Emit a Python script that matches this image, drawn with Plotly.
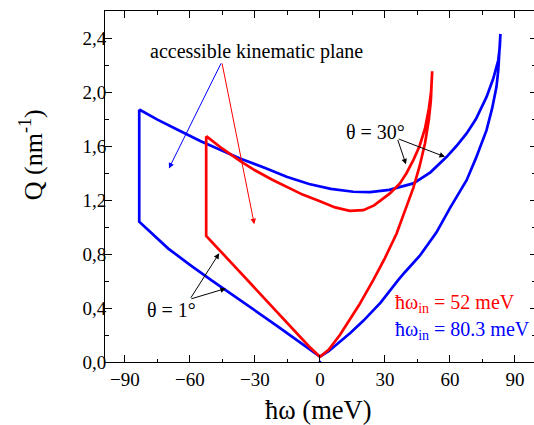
import plotly.graph_objects as go

# ---- data ----
# blue: ħω_in = 80.3 meV
blue_t30_x = [-83.4, -75, -65, -55, -45, -36.9, -25, -15.4, -5, 5, 15.4, 23.1, 32, 43.1, 51, 58.5, 63, 67.7, 72, 76.9, 80, 82.3, 83.0, 83.3]
blue_t30_y = [1.870, 1.795, 1.715, 1.635, 1.565, 1.508, 1.435, 1.372, 1.318, 1.282, 1.261, 1.258, 1.275, 1.323, 1.405, 1.52, 1.60, 1.693, 1.80, 1.964, 2.10, 2.235, 2.33, 2.43]
blue_t1r_x = [83.3, 83.0, 82.3, 81.5, 79.5, 76.9, 72, 67.7, 60, 53.8, 46, 39.2, 36.1, 28, 20, 14, 9.2, 4, 0.0]
blue_t1r_y = [2.43, 2.30, 2.16, 2.04, 1.88, 1.717, 1.51, 1.347, 1.14, 0.96, 0.785, 0.665, 0.607, 0.44, 0.305, 0.215, 0.150, 0.08, 0.039]
blue_t1l_x = [0.0, -5, -10, -20, -30, -40, -50, -60, -70, -83.4]
blue_t1l_y = [0.039, 0.095, 0.155, 0.27, 0.38, 0.49, 0.605, 0.72, 0.84, 1.039]

# red: ħω_in = 52 meV
red_t30_x = [-52.5, -45, -36.9, -30, -22, -15.4, -8, 0.0, 7, 13.8, 20, 25, 32.3, 36.9, 40, 43.1, 46, 48.5, 50.3, 51.3, 51.8]
red_t30_y = [1.673, 1.58, 1.49, 1.42, 1.35, 1.298, 1.24, 1.19, 1.145, 1.12, 1.125, 1.16, 1.249, 1.323, 1.40, 1.495, 1.60, 1.73, 1.88, 2.00, 2.154]
red_t1r_x = [51.8, 51.2, 50.3, 48.5, 46, 43.1, 39, 35.4, 30, 24.6, 18, 9.2, 4, 0.0]
red_t1r_y = [2.154, 1.94, 1.80, 1.62, 1.45, 1.29, 1.11, 0.952, 0.77, 0.607, 0.42, 0.20, 0.09, 0.039]
red_t1l_x = [0.0, -5, -10, -20, -29.2, -40, -52.5]
red_t1l_y = [0.039, 0.115, 0.20, 0.37, 0.533, 0.72, 0.933]

x_ticks = [-90, -60, -30, 0, 30, 60, 90]
y_ticks = [0.0, 0.4, 0.8, 1.2, 1.6, 2.0, 2.4]

FONT = "Liberation Serif, Times New Roman, serif"
BLUE = "#0000ff"
RED = "#ff0000"


def loop(t30x, t30y, t1rx, t1ry, t1lx, t1ly):
    xs = t30x + t1rx[1:] + t1lx[1:] + [t30x[0]]
    ys = t30y + t1ry[1:] + t1ly[1:] + [t30y[0]]
    return xs, ys


bx, by = loop(blue_t30_x, blue_t30_y, blue_t1r_x, blue_t1r_y, blue_t1l_x, blue_t1l_y)
rx, ry = loop(red_t30_x, red_t30_y, red_t1r_x, red_t1r_y, red_t1l_x, red_t1l_y)

fig = go.Figure()
fig.add_trace(go.Scatter(x=bx, y=by, mode="lines", line=dict(color=BLUE, width=2.7),
                         showlegend=False, hoverinfo="skip"))
fig.add_trace(go.Scatter(x=rx, y=ry, mode="lines", line=dict(color=RED, width=2.7),
                         showlegend=False, hoverinfo="skip"))
fig.add_trace(go.Scatter(x=[0], y=[0], mode="markers", marker=dict(color=BLUE, size=3),
                         showlegend=False, hoverinfo="skip"))
# invisible trace for right axis ticks
fig.add_trace(go.Scatter(x=[0], y=[0], yaxis="y2", mode="markers", marker=dict(opacity=0),
                         showlegend=False, hoverinfo="skip"))

axis_common = dict(ticks="inside", ticklen=7, tickwidth=1, tickcolor="black",
                   showgrid=False, zeroline=False, linecolor="black", linewidth=1,
                   tickfont=dict(family=FONT, size=19, color="black"))

fig.update_layout(
    width=534, height=425,
    margin=dict(l=105, r=0, t=11, b=63),
    paper_bgcolor="white", plot_bgcolor="white",
    separators=",.",
    xaxis=dict(range=[-99.2, 98.8], tickvals=x_ticks, showline=True, mirror="ticks",
               minor=dict(dtick=15, tick0=0, ticks="inside", ticklen=3.5, tickcolor="black"),
               **axis_common),
    yaxis=dict(range=[0, 2.6], tickvals=y_ticks, tickformat=".1f", showline=True, mirror=False,
               minor=dict(dtick=0.2, tick0=0, ticks="inside", ticklen=3.5, tickcolor="black"),
               ticklabelstandoff=-6,
               **axis_common),
    yaxis2=dict(range=[0, 2.6], overlaying="y", side="right", tickvals=y_ticks, showticklabels=False,
                ticks="inside", ticklen=4, tickcolor="black", showline=False, showgrid=False, zeroline=False,
                minor=dict(dtick=0.2, tick0=0, ticks="inside", ticklen=2, tickcolor="black")),
)

# axis titles
fig.add_annotation(x=0.4965, y=-0.137, xref="paper", yref="paper", text="ħω (meV)",
                   showarrow=False, xanchor="center", yanchor="middle", borderpad=0,
                   font=dict(family=FONT, size=26.5, color="black"))
fig.add_annotation(x=-0.1725, y=0.592, xref="paper", yref="paper", text="Q (nm<sup>-1</sup>)",
                   showarrow=False, xanchor="center", yanchor="middle", textangle=-90,
                   font=dict(family=FONT, size=26, color="black"))

ann_font = dict(family=FONT, size=20, color="black")


def arrow(x0, y0, x1, y1, color, width=1):
    fig.add_annotation(x=x1, y=y1, ax=x0, ay=y0, xref="x", yref="y", axref="x", ayref="y",
                       text="", showarrow=True, arrowhead=2, arrowsize=1.1, arrowwidth=width,
                       arrowcolor=color, standoff=0, startstandoff=0)


fig.add_annotation(x=-29.2, y=2.297, xref="x", yref="y", text="accessible kinematic plane",
                   showarrow=False, font=ann_font)
arrow(-45.3, 2.223, -69.7, 1.434, BLUE)
arrow(-45.3, 2.223, -30.3, 1.021, RED)

fig.add_annotation(x=25.8, y=1.705, xref="x", yref="y", text="θ = 30°", showarrow=False, font=ann_font)
arrow(35.7, 1.656, 39.7, 1.465, "black")
arrow(35.7, 1.656, 57.7, 1.52, "black")

fig.add_annotation(x=-68.4, y=0.385, xref="x", yref="y", text="θ = 1°", showarrow=False, font=ann_font)
arrow(-60.0, 0.465, -46.5, 0.805, "black")
arrow(-60.0, 0.465, -43.4, 0.545, "black")

fig.add_annotation(x=33.7, y=0.437, xref="x", yref="y",
                   text="ħω<sub>in</sub> = 52 meV", showarrow=False, xanchor="left",
                   font=dict(family=FONT, size=20, color=RED))
fig.add_annotation(x=33.7, y=0.237, xref="x", yref="y",
                   text="ħω<sub>in</sub> = 80.3 meV", showarrow=False, xanchor="left",
                   font=dict(family=FONT, size=20, color=BLUE))

fig.write_html("out.html")
